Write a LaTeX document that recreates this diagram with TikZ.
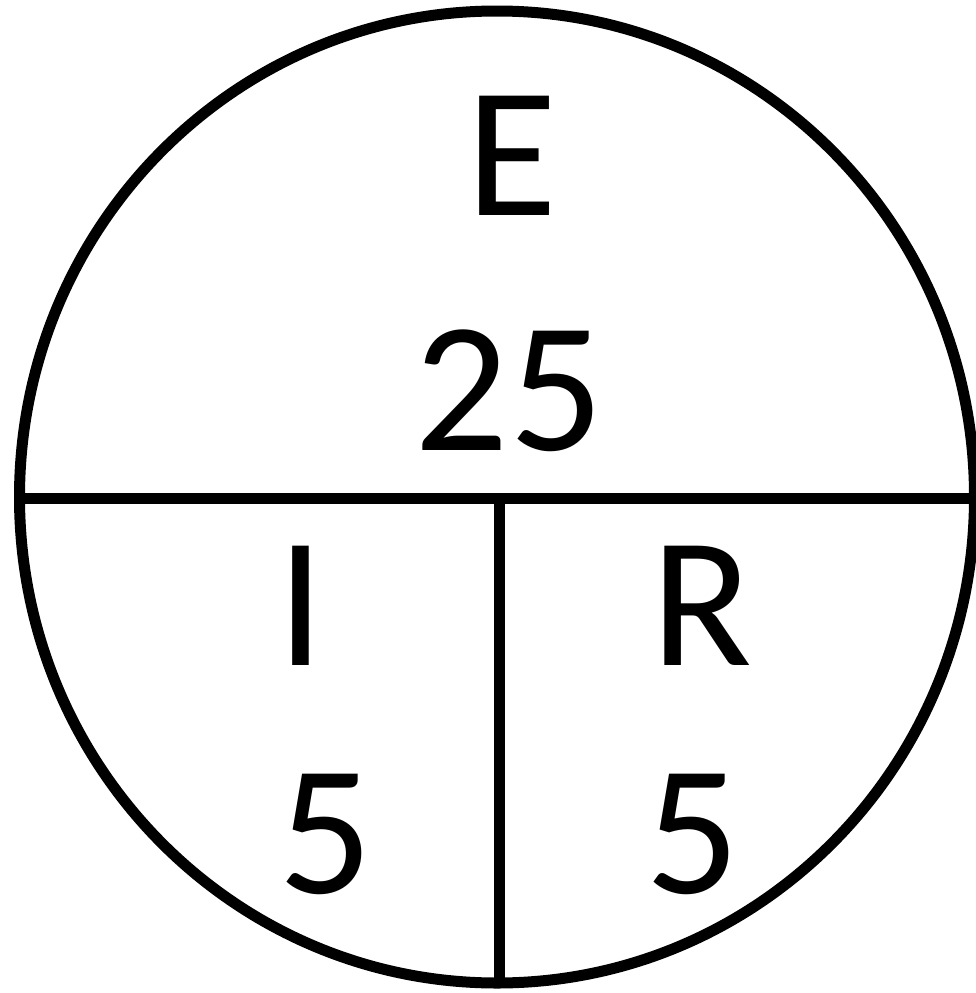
\documentclass[tikz,border=0pt]{standalone}
\usepackage{fontspec}
\setmainfont{Carlito}
\usetikzlibrary{shapes.geometric}
\begin{document}
\begin{tikzpicture}[x=1pt,y=-1pt,
  lbl/.style={anchor=base,inner sep=0pt,font=\fontsize{186}{186}\selectfont},
  thick line/.style={line width=11pt}]
\useasboundingbox (0,0) rectangle (976,993);
\node[draw,thick line,ellipse,minimum width=955pt,minimum height=972pt,inner sep=0pt] (c) at (497,497) {};
\coordinate (hl) at (20,498);
\coordinate (hr) at (975,498);
\coordinate (vt) at (499,498);
\coordinate (vb) at (499,985);
\draw[thick line] (hl) -- (hr);
\draw[thick line] (vt) -- (vb);
\node[lbl] (E) at (512,215) {E};
\node[lbl] (n25) at (509,450) {25};
\node[lbl] (I) at (301,665) {I};
\node[lbl] (R) at (702,665) {R};
\node[lbl] (n5a) at (326,893) {5};
\node[lbl] (n5b) at (693,893) {5};
\end{tikzpicture}
\end{document}
